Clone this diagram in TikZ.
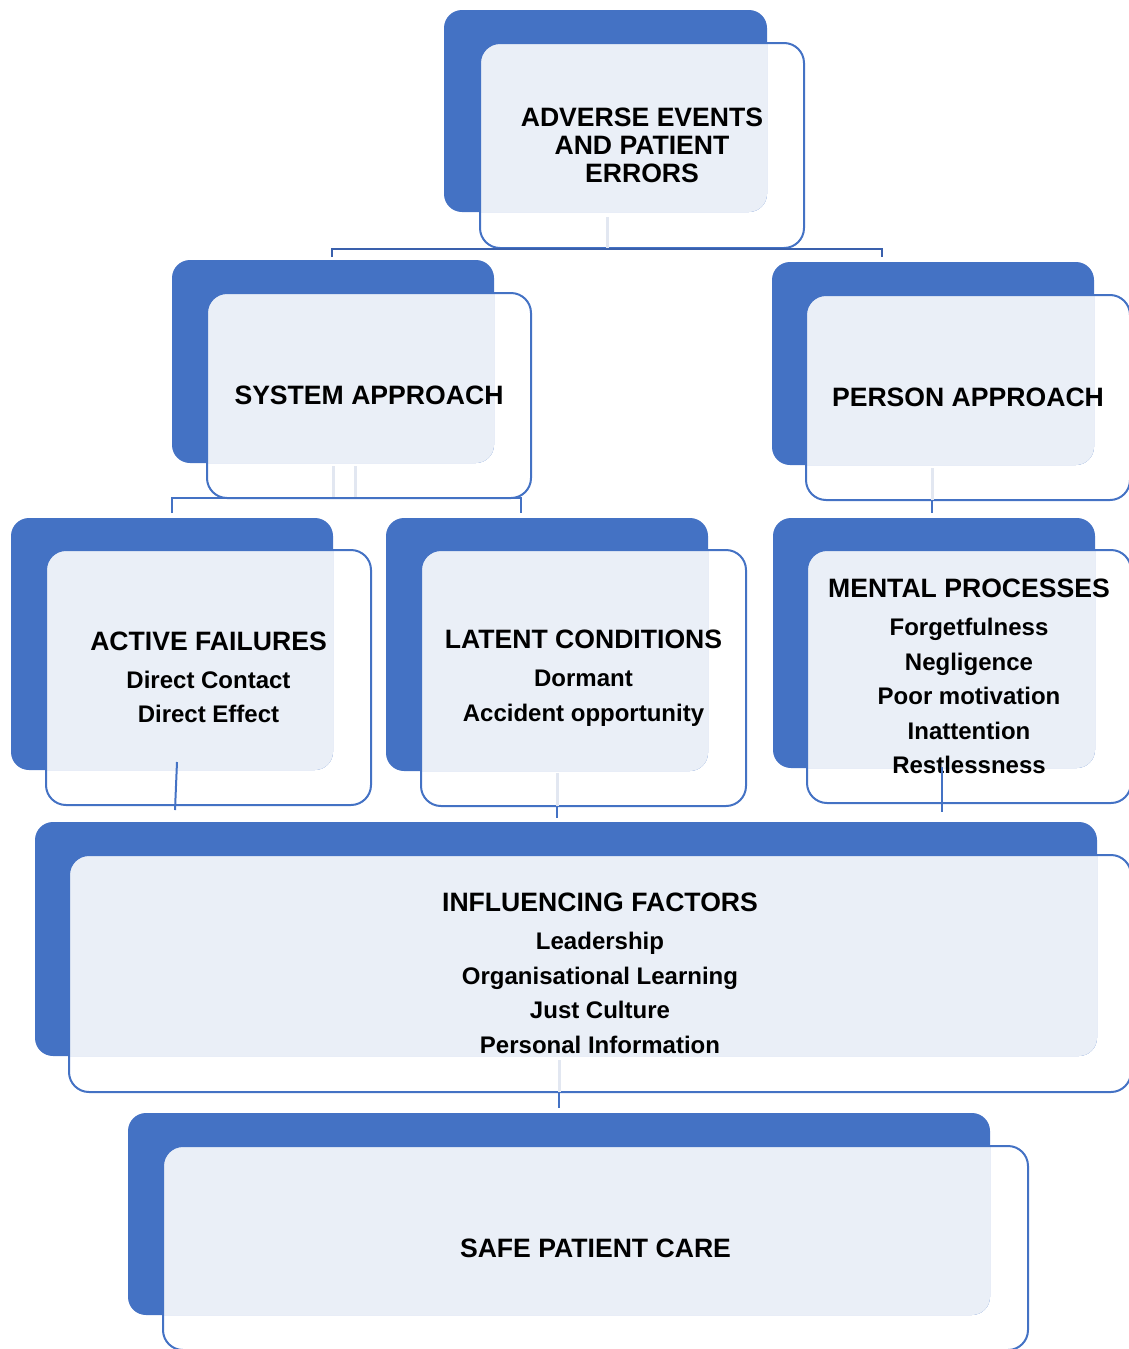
\documentclass[tikz,border=0pt]{standalone}
\usepackage{fontspec}
\setmainfont{Liberation Sans}
\usetikzlibrary{fit,calc}
\definecolor{bl}{HTML}{4472C4}
\definecolor{lt}{HTML}{EAEFF7}
\definecolor{ln}{HTML}{E2E7F1}
\definecolor{dk}{HTML}{3A60AC}
\tikzset{
 backbox/.style={fill=bl, draw=none, rounded corners=18pt, inner sep=0pt, outer sep=0pt},
 frontbox/.style={draw=bl, line width=2pt, rounded corners=20pt, inner sep=0pt, outer sep=0pt},
 boxtext/.style={inner sep=0pt, align=center, font=\bfseries\fontsize{24}{34.5}\selectfont},
 lightline/.style={draw=ln, line width=3pt},
 blueline/.style={draw=bl, line width=2pt},
 darkline/.style={draw=dk, line width=2.5pt},
}
\newcommand\hd[1]{{\fontsize{26.6}{28}\selectfont #1}}
\newcommand\twobox[7][]{%
 \node[backbox, fit={(#3)(#4)}] (#2B) {};
 \begin{scope}
 \clip[rounded corners=18pt] (#3) rectangle (#4);
 \fill[lt, rounded corners=20pt] (#5) rectangle (#6);
 \end{scope}
 \node[frontbox, fit={(#5)(#6)}] (#2F) {};
 \node[boxtext, #1] (#2T) at (#2F.center) {#7};
}
\begin{document}
\begin{tikzpicture}[x=1pt,y=-1pt]
\useasboundingbox (0,0) rectangle (1129,1349);
\clip (0,0) rectangle (1129,1349);
\twobox[font=\bfseries\fontsize{26.6}{28}\selectfont]{top}{444,10}{767,212}{480,43}{804,248}{ADVERSE EVENTS\\AND PATIENT\\ERRORS}
\twobox{sys}{172,260}{494,463}{207,293}{531,498}{\hd{SYSTEM APPROACH}}
\twobox{per}{772,262}{1094,465}{806,295}{1130,500}{\hd{PERSON APPROACH}}
\twobox{act}{11,518}{333,770}{46,550}{371,805}{\hd{ACTIVE FAILURES}\\[3.5pt]Direct Contact\\Direct Effect}
\twobox{lat}{386,518}{708,771}{421,550}{746,806}{\hd{LATENT CONDITIONS}\\[3.5pt]Dormant\\Accident opportunity}
\twobox{men}{773,518}{1095,768}{807,550}{1131,803}{\hd{MENTAL PROCESSES}\\[3.5pt]Forgetfulness\\Negligence\\Poor motivation\\Inattention\\Restlessness}
\twobox{inf}{35,822}{1097,1056}{69,855}{1131,1092}{\hd{INFLUENCING FACTORS}\\[3.5pt]Leadership\\Organisational Learning\\Just Culture\\Personal Information}
\twobox{safe}{128,1113}{990,1315}{163,1146}{1028,1350}{\hd{SAFE PATIENT CARE}}
% connector points
\coordinate (perIn) at (882,257);
\coordinate (latIn) at (521,513);
\coordinate (actA) at (177,762);
\coordinate (actZ) at (175,810);
\coordinate (latA) at (557,773);
\coordinate (latM) at (557,806);
\coordinate (latZ) at (557,818);
\coordinate (menA) at (942,767);
\coordinate (menZ) at (942,812);
\coordinate (infA) at (559,1060);
\coordinate (infM) at (559,1092);
\coordinate (infZ) at (559,1108);
% top -> system / person
\draw[lightline] ($(topB.south)+(1.5,5)$) -- ($(topB.south)+(1.5,36)$);
\draw[darkline] ($(sysB.north)+(-1,-3)$) |- ($(topF.south)+(0,1)$) -| (perIn);
% system -> active / latent
\draw[lightline] ($(sysB.south)+(0,3)$) -- ($(sysB.south)+(0,34)$);
\draw[lightline] ($(sysB.south)+(22,3)$) -- ($(sysB.south)+(22,34)$);
\draw[blueline] ($(actB.north)+(0,-5)$) |- (sysF.south) -| (latIn);
% person -> mental
\draw[lightline] ($(perB.south)+(-1,3)$) -- ($(perB.south)+(-1,35)$);
\draw[blueline] ($(perB.south)+(-1,35)$) -- ($(menB.north)+(-2,-5)$);
% row 3 -> influencing
\draw[blueline] (actA) -- (actZ);
\draw[lightline] (latA) -- (latM);
\draw[blueline] (latM) -- (latZ);
\draw[blueline] (menA) -- (menZ);
% influencing -> safe
\draw[lightline] (infA) -- (infM);
\draw[blueline] (infM) -- (infZ);
\end{tikzpicture}
\end{document}
